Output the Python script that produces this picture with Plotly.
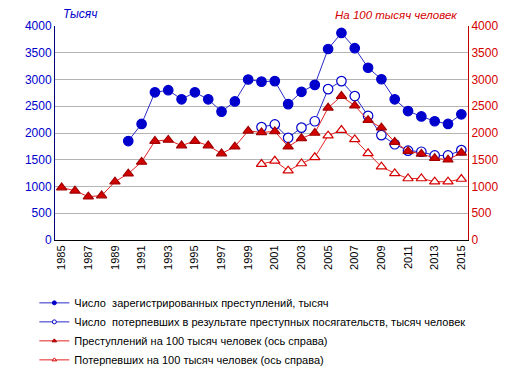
import plotly.graph_objects as go

years = [str(y) for y in range(1985, 2016)]
tick_labels = [str(y) for y in range(1985, 2016, 2)]

crimes_years = years[5:]  # 1990-2015
crimes = [1850, 2170, 2760, 2800, 2630, 2760, 2630, 2400, 2590, 3000,
          2960, 2970, 2540, 2770, 2900, 3570, 3870, 3585, 3220, 3005,
          2630, 2410, 2310, 2220, 2170, 2350]

victims_years = years[15:]  # 2000-2015
victims = [2110, 2160, 1910, 2100, 2220, 2820, 2970, 2690, 2320, 1960,
           1790, 1670, 1650, 1580, 1580, 1680]

crimes_rate = [980, 920, 810, 830, 1090, 1240, 1460, 1850, 1870, 1765,
               1850, 1765, 1615, 1745, 2040, 2010, 2030, 1745, 1900, 2000,
               2470, 2690, 2510, 2240, 2100, 1830, 1660, 1610, 1530, 1500,
               1630]

victims_rate = [1420, 1480, 1295, 1430, 1545, 1950, 2055, 1880, 1620, 1370,
                1245, 1150, 1150, 1090, 1090, 1140]

names = [
    "Число  зарегистрированных преступлений, тысяч",
    "Число  потерпевших в результате преступных посягательств, тысяч человек",
    "Преступлений на 100 тысяч человек (ось справа)",
    "Потерпевших на 100 тысяч человек (ось справа)",
]

BLUE = "#0000cc"
BLUE_LINE = "#2a2ac8"
RED = "#d40000"
RED_LINE = "#e52222"

series = [
    dict(x=crimes_years, y=crimes, axis="y", line=BLUE_LINE,
         sym="circle", fill=BLUE, edge=BLUE, size=9.5),
    dict(x=victims_years, y=victims, axis="y", line=BLUE_LINE,
         sym="circle", fill="white", edge=BLUE, size=9.5),
    dict(x=years, y=crimes_rate, axis="y2", line=RED_LINE,
         sym="triangle-up", fill=RED, edge="#a00000", size=9),
    dict(x=victims_years, y=victims_rate, axis="y2", line=RED_LINE,
         sym="triangle-up", fill="white", edge=RED, size=9),
]

fig = go.Figure()
for name, s in zip(names, series):
    fig.add_trace(go.Scatter(
        x=s["x"], y=s["y"], name=name, mode="lines+markers", yaxis=s["axis"],
        line=dict(color=s["line"], width=1), showlegend=False,
        marker=dict(symbol=s["sym"], size=s["size"], color=s["fill"],
                    line=dict(color=s["edge"], width=1.2)),
    ))
# legend entries with small markers, as in the original
for name, s in zip(names, series):
    fig.add_trace(go.Scatter(
        x=[None], y=[None], name=name, mode="lines+markers", yaxis=s["axis"],
        line=dict(color=s["line"], width=1), showlegend=True,
        marker=dict(symbol=s["sym"], size=4, color=s["fill"],
                    line=dict(color=s["edge"], width=1)),
    ))

fig.update_layout(
    width=514, height=370,
    margin=dict(l=47, r=54, t=18, b=138, autoexpand=False),
    paper_bgcolor="white", plot_bgcolor="white",
    font=dict(family="Liberation Sans, Arial, sans-serif", size=11, color="black"),
    showlegend=True,
    legend=dict(
        x=-0.05, y=-0.226,
        xanchor="left", yanchor="top",
        font=dict(size=11, color="black"),
        tracegroupgap=0, itemwidth=30,
        bgcolor="rgba(0,0,0,0)",
    ),
    xaxis=dict(
        type="category", categoryorder="array", categoryarray=years,
        tickmode="array", tickvals=tick_labels, ticktext=tick_labels,
        tickangle=-90, tickfont=dict(size=11, color="black"),
        showline=True, linecolor="black", linewidth=1,
        showgrid=False, ticks="", range=[-0.5, len(years) - 0.5],
    ),
    yaxis=dict(
        range=[0, 4000], dtick=500, tickfont=dict(size=12, color=BLUE),
        showline=True, linecolor="#000080", linewidth=1,
        showgrid=True, gridcolor="#b4b4b4", gridwidth=1, zeroline=False,
        ticks="",
    ),
    yaxis2=dict(
        range=[0, 4000], dtick=500, overlaying="y", side="right",
        tickfont=dict(size=12, color=RED),
        showline=True, linecolor="#c00000", linewidth=1,
        showgrid=False, zeroline=False, ticks="",
    ),
    annotations=[
        dict(text="<i>Тысяч</i>", xref="paper", yref="paper", x=0.015, y=1.0,
             xanchor="left", yanchor="bottom", showarrow=False, yshift=3,
             font=dict(size=12, color=BLUE)),
        dict(text="<i>На 100 тысяч человек</i>", xref="paper", yref="paper", x=0.978, y=1.0,
             xanchor="right", yanchor="bottom", showarrow=False, yshift=3,
             font=dict(size=11.5, color=RED)),
    ],
)

fig.write_html("out.html")
